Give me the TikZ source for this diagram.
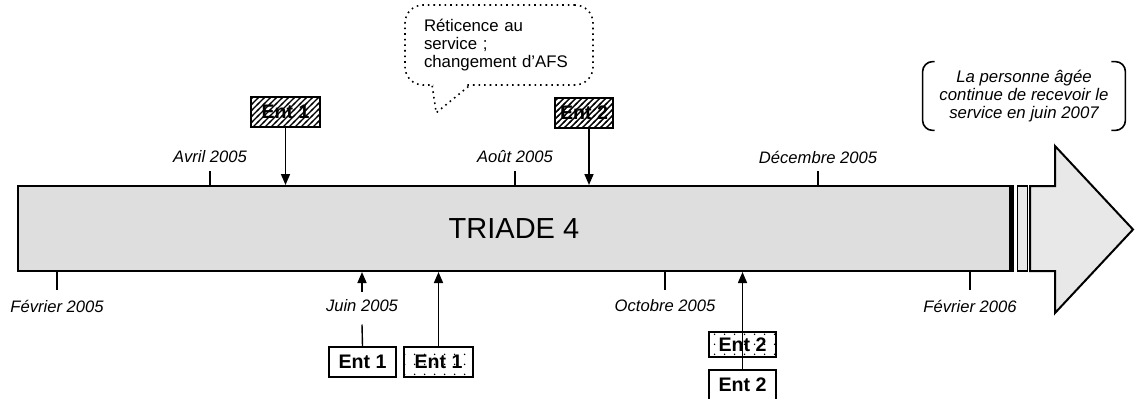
\documentclass[tikz,border=0pt]{standalone}
\usepackage{fontspec}
\setmainfont{Liberation Sans}
\usetikzlibrary{arrows.meta,patterns,positioning,calc}

\pgfdeclarepatternformonly{ent hatch}{\pgfpoint{-1pt}{-1pt}}{\pgfpoint{4pt}{4pt}}{\pgfpoint{3pt}{3pt}}{%
  \pgfsetlinewidth{0.7pt}\pgfpathmoveto{\pgfpoint{-0.5pt}{-0.5pt}}\pgflineto{\pgfpoint{3.5pt}{3.5pt}}\pgfusepath{stroke}}
\pgfdeclarepatternformonly{ent dots}{\pgfpointorigin}{\pgfpoint{5pt}{5pt}}{\pgfpoint{5pt}{5pt}}{%
  \pgfpathcircle{\pgfpoint{2.5pt}{2.5pt}}{0.45pt}\pgfusepath{fill}}

\begin{document}
\begin{tikzpicture}[x=0.5pt, y=-0.5pt,
  date/.style={font=\fontsize{8.3}{9}\selectfont\itshape, inner sep=1pt},
  entbox/.style={rectangle, draw, line width=0.75pt, fill=white, minimum height=15pt, inner sep=0pt, font=\fontsize{9.8}{10}\selectfont\bfseries},
  hatched/.style={entbox, pattern=ent hatch},
  speckled/.style={entbox, pattern=ent dots},
  arr/.style={-{Triangle[length=5.5pt,width=4.5pt]}, line width=0.8pt},
  tickline/.style={line width=0.7pt}
]
  \useasboundingbox (0,0) rectangle (1135,398);
  % timeline bar
  \node[draw, line width=1pt, fill=black!13, minimum width=496pt, minimum height=42.5pt, inner sep=0pt, font=\fontsize{14.5}{16}\selectfont] (bar) at (514,228.5) {TRIADE 4};
  \draw[line width=2.5pt] (bar.north east) -- (bar.south east);
  \node[draw, line width=0.8pt, fill=black!9, minimum width=5pt, minimum height=42.5pt, inner sep=0pt] (gap) at (1022.5,228.5) {};
  \draw[line width=1pt, fill=black!9] (1030,186) -- (1055,186) -- (1055,146) -- (1133,229.5) -- (1055,313) -- (1055,271) -- (1030,271) -- cycle;
  % dates
  \foreach \x/\name/\txt in {210/avr/Avril 2005, 515/aou/Août 2005, 818/dec/Décembre 2005}{
    \node[date] (\name) at (\x,157) {\txt};
    \draw[tickline] (\name.south |- bar.north) -- ++(0,-14);
  }
  \foreach \x/\name/\txt in {57/fev/Février 2005, 665/oct/Octobre 2005, 970/fevb/Février 2006}{
    \node[date] (\name) at (\x,306) {\txt};
    \draw[tickline] (\name.north |- bar.south) -- ++(0,18);
  }
  \node[date] (juin) at (362,306) {Juin 2005};
  % interviews
  \node[hatched, minimum width=34.5pt] (ent1h) at (285.5,112) {Ent 1};
  \node[hatched, minimum width=29pt] (ent2h) at (584,113) {Ent 2};
  \node[entbox, minimum width=33.5pt] (ent1w) at (362.5,362) {Ent 1};
  \node[speckled, minimum width=34.5pt] (ent1d) at (438.5,362) {Ent 1};
  \node[speckled, minimum width=33.5pt, minimum height=12.5pt] (ent2d) at (742.5,344.5) {Ent 2};
  \node[entbox, minimum width=33.5pt] (ent2w) at (742.5,385) {Ent 2};
  \draw[arr] (ent1h.south) -- (ent1h.south |- bar.north);
  \draw[arr] ([xshift=2.5pt]ent2h.south) -- ([xshift=2.5pt]ent2h.south |- bar.north);
  \draw[tickline] (ent1w.north) -- ([yshift=-5pt]juin.south);
  \draw[arr] ([yshift=3pt]juin.north) -- (juin.north |- bar.south);
  \draw[arr] (ent1d.north) -- (ent1d.north |- bar.south);
  \draw[arr] (ent2w.north) -- (ent2w.north |- bar.south);
  % speech bubble
  \node[draw, dotted, line width=0.8pt, rounded corners=9pt, minimum width=94pt, minimum height=40pt, text width=75pt, align=left, font=\fontsize{8.4}{9}\selectfont] (bubble) at (499,45) {Réticence au\\service ;\\changement d'AFS};
  \fill[white] ($(bubble.south west)+(29,-3)$) -- ($(bubble.south west)+(32,27)$) -- ($(bubble.south west)+(64,-3)$) -- cycle;
  \draw[dotted, line width=0.8pt] ($(bubble.south west)+(28,0)$) -- ($(bubble.south west)+(32,27)$) -- ($(bubble.south west)+(65,0)$);
  % note
  \node[minimum width=101pt, minimum height=34pt, align=center, font=\fontsize{8.4}{9}\selectfont\itshape] (note) at (1024,96) {La personne âgée\\continue de recevoir le\\service en juin 2007};
  \draw[line width=0.8pt, rounded corners=5pt] ([xshift=6pt]note.north west) -| (note.south west) -- ([xshift=6pt]note.south west);
  \draw[line width=0.8pt, rounded corners=5pt] ([xshift=-7pt]note.north east) -| (note.south east) -- ([xshift=-7pt]note.south east);
\end{tikzpicture}
\end{document}
